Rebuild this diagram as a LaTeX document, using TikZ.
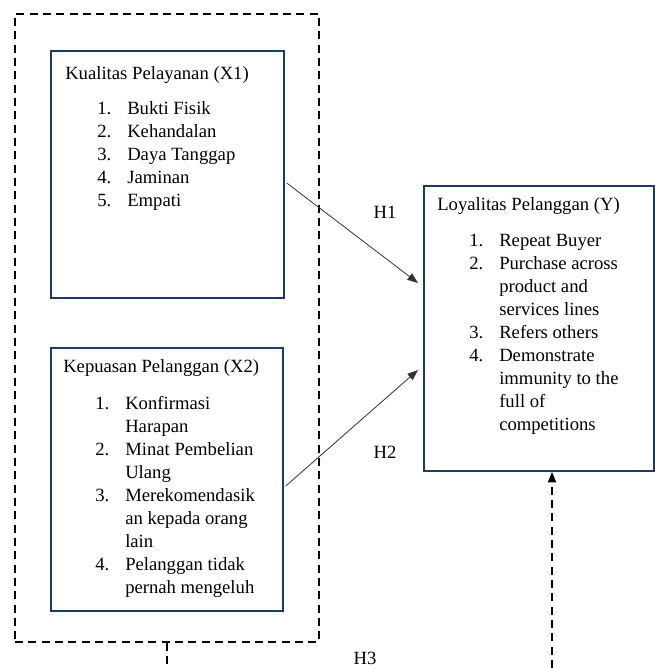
\documentclass[tikz,border=0pt]{standalone}
\usepackage{fontspec}
\setmainfont{Liberation Serif}
\usetikzlibrary{arrows.meta}
\definecolor{boxline}{HTML}{1F3864}
\newcommand{\num}[1]{\hspace*{24pt}\makebox[22.5pt][l]{#1}}
\newcommand{\cont}{\hspace*{46.5pt}}

\begin{document}
\begin{tikzpicture}[x=0.75pt,y=-0.75pt,
  varbox/.style={draw=boxline,line width=1.3pt,anchor=north west,inner sep=0pt},
  boxtext/.style={anchor=north west,inner sep=0pt,align=left,font=\fontsize{14}{17.25}\selectfont},
  dashline/.style={dash pattern=on 6pt off 4pt,line width=1.4pt},
  hyp/.style={font=\fontsize{14}{16}\selectfont,inner sep=0pt},
  arr/.style={-{Triangle[length=8pt,width=6pt]},line width=0.6pt,draw=black!80}]
\useasboundingbox (0,0) rectangle (655,668);

% group of the two variables
\node[draw,dashline,anchor=north west,inner sep=0pt,minimum width=228pt,minimum height=471pt] (grp) at (14,13) {};

% variable boxes
\node[varbox,minimum width=174.75pt,minimum height=185.25pt] (x1) at (50,50) {};
\node[varbox,minimum width=174pt,minimum height=197.25pt] (x2) at (50,347) {};
\node[varbox,minimum width=172.5pt,minimum height=213.75pt] (y) at (423,185) {};

\node[boxtext] (x1t) at (65,66) {Kualitas Pelayanan (X1)\\[9pt]
\num{1.}Bukti Fisik\\
\num{2.}Kehandalan\\
\num{3.}Daya Tanggap\\
\num{4.}Jaminan\\
\num{5.}Empati};

\node[boxtext] (x2t) at (63,359) {Kepuasan Pelanggan (X2)\\[10.5pt]
\num{1.}Konfirmasi\\
\cont Harapan\\
\num{2.}Minat Pembelian\\
\cont Ulang\\
\num{3.}Merekomendasik\\
\cont an kepada orang\\
\cont lain\\
\num{4.}Pelanggan tidak\\
\cont pernah mengeluh};

\node[boxtext] (yt) at (437,197) {Loyalitas Pelanggan (Y)\\[9.75pt]
\num{1.}Repeat Buyer\\
\num{2.}Purchase across\\
\cont product and\\
\cont services lines\\
\num{3.}Refers others\\
\num{4.}Demonstrate\\
\cont immunity to the\\
\cont full of\\
\cont competitions};

% hypotheses
\draw[arr] ([xshift=1.5pt]x1.east |- 0,183) -- ([xshift=-3.75pt]y.west |- 0,283);
\draw[arr] ([xshift=1.5pt]x2.east |- 0,486) -- ([xshift=-3.75pt]y.west |- 0,370);
\node[hyp] (h1) at (385,212) {H1};
\node[hyp] (h2) at (385,452) {H2};
\node[hyp] (h3) at (365,658) {H3};

\coordinate (h3start) at (552,668);
\draw[dashline] (grp.south) -- (grp.south |- 0,668);
\draw[dashline,-{Triangle[length=8pt,width=6pt]}] (h3start) -- (h3start |- y.south);
\end{tikzpicture}
\end{document}
